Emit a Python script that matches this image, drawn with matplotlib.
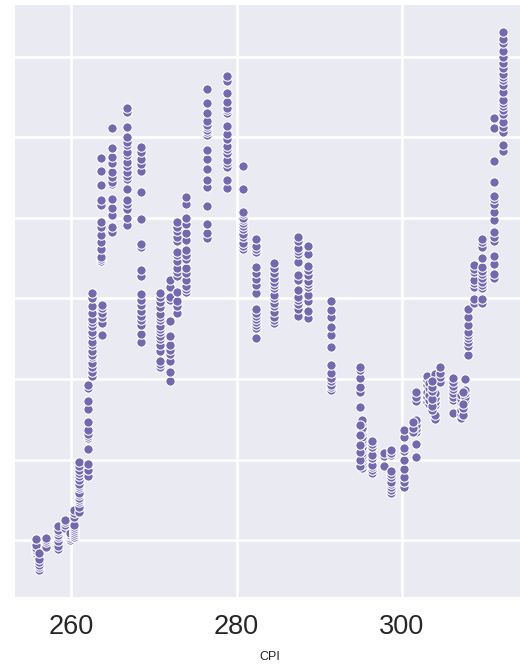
import matplotlib
matplotlib.use("Agg")
import matplotlib.pyplot as plt
import seaborn as sns

# y axis has no labels in the chart, so values are on a plain index scale
y_ticks = [60, 140, 221, 302, 382, 463, 543]
x_ticks = [260, 280, 300]

cpi = [255.8, 256.1, 257.0, 258.4, 259.3, 259.9, 260.3, 260.9, 262.0, 262.5,
       263.6, 263.7, 264.9, 266.7, 268.4, 270.7, 272.0, 272.8, 273.9, 276.4,
       278.8, 280.8, 282.4, 284.5, 287.5, 288.7, 291.4, 295.0, 295.2, 296.4,
       297.9, 298.7, 300.3, 301.7, 303.0, 303.3, 304.0, 304.6, 306.2, 307.2,
       307.6, 308.0, 308.7, 309.7, 311.1, 312.2, 294.9, 303.6, 301.4, 307.4]

low_a = [47, 49, 50, 52, 55, 61]
low_b = [30, 33, 35, 38, 41, 47]
low_c = [53, 58, 60, 62]
low_d = [51, 54, 59, 63, 65, 68, 70, 74]
low_e = [72, 75, 78, 80]
low_f = [60, 62, 64, 65, 67]
low_g = [63, 65, 67, 69, 71, 73, 75, 83, 87, 90]
rise_a = [88, 93, 98, 100, 102, 105, 107, 112, 114, 116, 120, 124, 127, 130, 134, 138]
rise_b = [124, 130, 136, 151, 162, 164, 166, 170, 178, 191, 199, 212, 215]
rise_c = [224, 228, 233, 237, 243, 245, 249, 255, 258, 265, 268, 274, 278, 281, 287, 294, 302, 307]
rise_d = [339, 341, 343, 351, 358, 365, 373, 378, 395, 400, 415, 429, 442]
rise_e = [265, 277, 283, 287, 292, 295]
rise_f = [368, 373, 385, 392, 401, 416, 418, 423, 428, 437, 443, 452, 472]
rise_g = [375, 382, 391, 396, 400, 411, 421, 424, 428, 434, 438, 445, 448, 455, 458, 463, 473, 488, 492]
mid_a = [258, 266, 275, 280, 284, 289, 295, 300, 306, 324, 330, 353, 356, 381, 408, 429, 436, 441, 448, 453]
mid_b = [233, 236, 239, 249, 255, 261, 264, 268, 271, 274, 280, 283, 286, 293, 298, 303, 307]
mid_c = [219, 228, 239, 246, 250, 255, 264, 279, 300, 303, 313, 320]
mid_d = [287, 294, 299, 308, 324, 328, 332, 339, 345, 348, 359, 363, 369, 373, 378]
mid_e = [308, 311, 314, 320, 327, 332, 341, 345, 350, 360, 367, 376, 382, 396, 403]
peak_a = [362, 367, 376, 394, 413, 420, 431, 441, 450, 465, 468, 470, 473, 475, 479, 487, 497, 511]
peak_b = [412, 420, 433, 437, 440, 447, 451, 454, 461, 466, 474, 487, 490, 492, 498, 507, 519, 524]
peak_c = [351, 354, 357, 363, 366, 371, 374, 377, 380, 382, 386, 388, 411, 434]
fall_a = [262, 272, 275, 278, 281, 284, 287, 291, 307, 315, 321, 327, 333, 348, 351, 354, 361]
fall_b = [277, 280, 283, 288, 294, 297, 302, 305, 312, 315, 318, 322, 327, 332, 337]
fall_c = [284, 291, 296, 300, 303, 310, 320, 325, 338, 346, 349, 352, 359, 363]
fall_d = [282, 289, 299, 305, 313, 316, 319, 325, 330, 334, 346, 354]
fall_e = [210, 213, 215, 219, 222, 227, 235, 253, 265, 273, 283, 290, 299]
fall_f = [193, 208, 213, 222, 230, 233]
dip_a = [132, 135, 138, 141, 144, 147, 150, 153, 157, 160, 163, 167, 170, 172, 177, 180]
dip_b = [127, 130, 133, 135, 142, 145, 153, 156, 159]
dip_c = [134, 144, 147]
dip_d = [107, 110, 113, 116, 118, 123, 126, 129, 145, 147, 150]
dip_e = [113, 118, 123, 131, 140, 149, 152, 163, 170]
dip_f = [143, 156, 168, 171, 175, 180, 199, 203, 208]
hump_a = [198, 203, 208, 215, 220, 224]
hump_b = [196, 200, 205, 212, 217]
hump_c = [181, 185, 195, 198, 202, 207, 226]
hump_d = [218, 223, 227, 233]
hump_e = [187, 200, 203, 207, 211, 214, 218, 222]
hump_f = [182, 186, 190, 198, 201, 205]
hump_g = [198, 200, 203, 207, 210, 221]
top_a = [245, 254, 258, 262, 265, 268, 275, 283, 291]
top_b = [297, 301, 313, 317, 320, 328, 331, 335]
top_c = [297, 301, 312, 315, 318, 322, 326, 329, 333, 342, 353, 358, 361]
top_d = [322, 326, 336, 344, 359, 363, 368, 380, 388, 396, 401, 404, 418, 439, 472, 482]
top_e = [449, 455, 468, 473, 478, 486, 490, 494, 497, 500, 508, 515, 520, 523, 526, 532, 537, 543, 549, 557, 561, 568]
side_a = [134, 140, 148, 155, 165, 175]
side_b = [190, 194, 201, 209, 213, 219]
side_c = [168, 172, 178]
side_d = [185, 192, 196, 208]

columns = [low_a, low_b, low_c, low_d, low_e, low_f, low_g, rise_a, rise_b, rise_c,
           rise_d, rise_e, rise_f, rise_g, mid_a, mid_b, mid_c, mid_d, mid_e, peak_a,
           peak_b, peak_c, fall_a, fall_b, fall_c, fall_d, fall_e, fall_f, dip_a, dip_b,
           dip_c, dip_d, dip_e, dip_f, hump_a, hump_b, hump_c, hump_d, hump_e, hump_f,
           hump_g, top_a, top_b, top_c, top_d, top_e, side_a, side_b, side_c, side_d]

x = []
y = []
for c, vals in zip(cpi, columns):
    for v in vals:
        x.append(c)
        y.append(v)

sns.set_style("darkgrid")
plt.rcParams["font.family"] = ["Liberation Sans", "DejaVu Sans"]

fig = plt.figure(figsize=(5.2, 6.65), dpi=100)
ax = fig.add_axes([15 / 520, 1 - 597 / 665, 505 / 520, 592 / 665])

ax.scatter(x, y, s=46, color="#7468b0", edgecolor="white", linewidth=0.8, zorder=3)

ax.set_xlim(253.2, 314.3)
ax.set_ylim(3, 595)
ax.set_xticks(x_ticks)
ax.set_yticks(y_ticks)
ax.set_yticklabels([])
ax.grid(True, color="white", linewidth=1.9)
ax.tick_params(axis="x", labelsize=19.5, length=0, pad=12, colors="#262626")
ax.tick_params(axis="y", length=0)
for s in ax.spines.values():
    s.set_visible(False)
ax.set_xlabel("CPI", fontsize=9, color="#262626")
ax.xaxis.set_label_coords(0.504, -0.091)

fig.savefig("out.png", dpi=100)
